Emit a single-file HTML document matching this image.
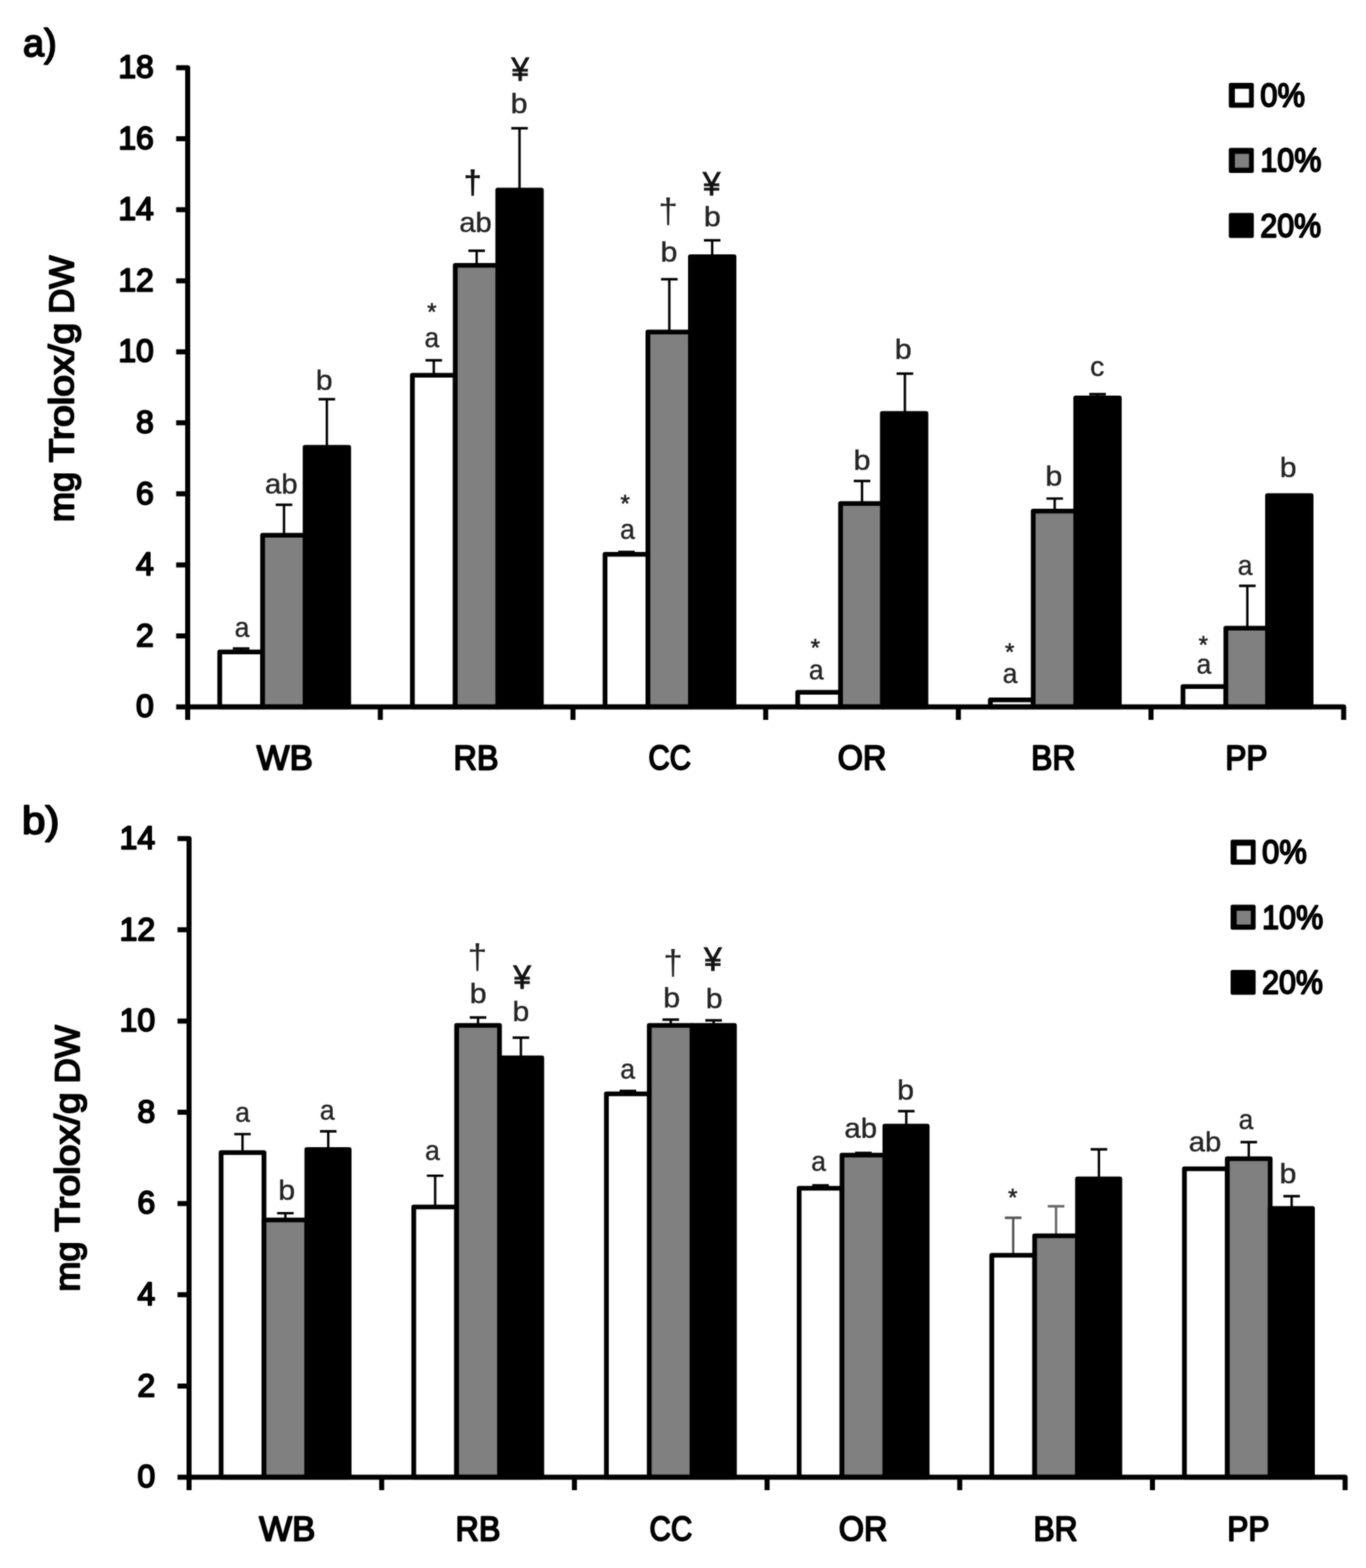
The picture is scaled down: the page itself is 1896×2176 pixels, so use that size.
<!DOCTYPE html>
<html lang="en"><head><meta charset="utf-8"><title>Figure</title>
<style>html,body{margin:0;padding:0;background:#fff}body{width:1896px;height:2176px;overflow:hidden}svg{display:block}text{font-family:"Liberation Sans", sans-serif}</style></head><body>
<svg width="1896" height="2176" viewBox="0 0 1896 2176">
<defs><filter id="soft" x="0" y="0" width="1896" height="2176" filterUnits="userSpaceOnUse" color-interpolation-filters="sRGB"><feGaussianBlur in="SourceGraphic" stdDeviation="0.8" result="b"/><feComposite in="SourceGraphic" in2="b" operator="arithmetic" k1="0" k2="0.45" k3="0.55" k4="0"/></filter></defs>
<rect width="1896" height="2176" fill="#fff"/>
<g filter="url(#soft)">
<rect width="1896" height="2176" fill="#fff"/>
<path d="M334.7 904.8V900.0M323.2 900.0H346.2" stroke="#000" stroke-width="3.3" fill="none"/>
<path d="M394.2 742.8V700.5M382.7 700.5H405.7" stroke="#000" stroke-width="3.3" fill="none"/>
<path d="M453.7 620.8V554.0M442.2 554.0H465.2" stroke="#000" stroke-width="3.3" fill="none"/>
<rect x="305.0" y="904.8" width="59.5" height="76.2" fill="#fff" stroke="#000" stroke-width="6.6" stroke-linejoin="round"/>
<rect x="364.5" y="742.8" width="59.5" height="238.2" fill="#808080" stroke="#000" stroke-width="6.6" stroke-linejoin="round"/>
<rect x="423.5" y="620.8" width="60.5" height="360.2" fill="#000" stroke="#000" stroke-width="6.6" stroke-linejoin="round"/>
<path d="M602.1 520.8V500.0M590.6 500.0H613.6" stroke="#000" stroke-width="3.3" fill="none"/>
<path d="M661.6 368.3V348.0M650.1 348.0H673.1" stroke="#000" stroke-width="3.3" fill="none"/>
<path d="M721.1 263.8V178.0M709.6 178.0H732.6" stroke="#000" stroke-width="3.3" fill="none"/>
<rect x="572.4" y="520.8" width="59.5" height="460.2" fill="#fff" stroke="#000" stroke-width="6.6" stroke-linejoin="round"/>
<rect x="631.9" y="368.3" width="59.5" height="612.7" fill="#808080" stroke="#000" stroke-width="6.6" stroke-linejoin="round"/>
<rect x="690.9" y="263.8" width="60.5" height="717.2" fill="#000" stroke="#000" stroke-width="6.6" stroke-linejoin="round"/>
<path d="M869.5 769.3V766.0M858.0 766.0H881.0" stroke="#000" stroke-width="3.3" fill="none"/>
<path d="M929.0 460.8V387.5M917.5 387.5H940.5" stroke="#000" stroke-width="3.3" fill="none"/>
<path d="M988.5 356.3V333.5M977.0 333.5H1000.0" stroke="#000" stroke-width="3.3" fill="none"/>
<rect x="839.8" y="769.3" width="59.5" height="211.7" fill="#fff" stroke="#000" stroke-width="6.6" stroke-linejoin="round"/>
<rect x="899.3" y="460.8" width="59.5" height="520.2" fill="#808080" stroke="#000" stroke-width="6.6" stroke-linejoin="round"/>
<rect x="958.3" y="356.3" width="60.5" height="624.7" fill="#000" stroke="#000" stroke-width="6.6" stroke-linejoin="round"/>
<path d="M1196.5 698.8V667.5M1185.0 667.5H1208.0" stroke="#000" stroke-width="3.3" fill="none"/>
<path d="M1256.0 573.8V518.5M1244.5 518.5H1267.5" stroke="#000" stroke-width="3.3" fill="none"/>
<rect x="1107.2" y="960.8" width="59.5" height="20.2" fill="#fff" stroke="#000" stroke-width="6.6" stroke-linejoin="round"/>
<rect x="1166.7" y="698.8" width="59.5" height="282.2" fill="#808080" stroke="#000" stroke-width="6.6" stroke-linejoin="round"/>
<rect x="1224.7" y="573.8" width="60.5" height="407.2" fill="#000" stroke="#000" stroke-width="6.6" stroke-linejoin="round"/>
<path d="M1463.9 709.3V691.8M1452.4 691.8H1475.4" stroke="#000" stroke-width="3.3" fill="none"/>
<path d="M1523.4 552.3V547.0M1511.9 547.0H1534.9" stroke="#000" stroke-width="3.3" fill="none"/>
<rect x="1374.6" y="971.3" width="59.5" height="9.7" fill="#fff" stroke="#000" stroke-width="6.6" stroke-linejoin="round"/>
<rect x="1434.1" y="709.3" width="59.5" height="271.7" fill="#808080" stroke="#000" stroke-width="6.6" stroke-linejoin="round"/>
<rect x="1493.1" y="552.3" width="60.5" height="428.7" fill="#000" stroke="#000" stroke-width="6.6" stroke-linejoin="round"/>
<path d="M1731.3 871.8V813.0M1719.8 813.0H1742.8" stroke="#000" stroke-width="3.3" fill="none"/>
<rect x="1642.0" y="952.8" width="59.5" height="28.2" fill="#fff" stroke="#000" stroke-width="6.6" stroke-linejoin="round"/>
<rect x="1701.5" y="871.8" width="59.5" height="109.2" fill="#808080" stroke="#000" stroke-width="6.6" stroke-linejoin="round"/>
<rect x="1759.3" y="687.8" width="60.5" height="293.2" fill="#000" stroke="#000" stroke-width="6.6" stroke-linejoin="round"/>
<path d="M244.5 94H260.5V981" stroke="#000" stroke-width="7" fill="none" stroke-linejoin="round"/>
<path d="M244.5 981H1865V999" stroke="#000" stroke-width="7" fill="none" stroke-linejoin="round"/>
<path d="M244.5 882.4H260.5M244.5 783.9H260.5M244.5 685.3H260.5M244.5 586.8H260.5M244.5 488.2H260.5M244.5 389.7H260.5M244.5 291.1H260.5M244.5 192.6H260.5M260.5 981V999M527.9 981V999M795.3 981V999M1062.8 981V999M1330.2 981V999M1597.6 981V999" stroke="#000" stroke-width="7" fill="none"/>
<text x="213.5" y="995.2" font-size="45" font-weight="normal" text-anchor="end" fill="#000" textLength="24.7" lengthAdjust="spacingAndGlyphs" stroke="#000" stroke-width="2.4" stroke-linejoin="round">0</text>
<text x="213.5" y="896.6" font-size="45" font-weight="normal" text-anchor="end" fill="#000" textLength="24.7" lengthAdjust="spacingAndGlyphs" stroke="#000" stroke-width="2.4" stroke-linejoin="round">2</text>
<text x="213.5" y="798.1" font-size="45" font-weight="normal" text-anchor="end" fill="#000" textLength="24.7" lengthAdjust="spacingAndGlyphs" stroke="#000" stroke-width="2.4" stroke-linejoin="round">4</text>
<text x="213.5" y="699.5" font-size="45" font-weight="normal" text-anchor="end" fill="#000" textLength="24.7" lengthAdjust="spacingAndGlyphs" stroke="#000" stroke-width="2.4" stroke-linejoin="round">6</text>
<text x="213.5" y="601.0" font-size="45" font-weight="normal" text-anchor="end" fill="#000" textLength="24.7" lengthAdjust="spacingAndGlyphs" stroke="#000" stroke-width="2.4" stroke-linejoin="round">8</text>
<text x="213.5" y="502.4" font-size="45" font-weight="normal" text-anchor="end" fill="#000" textLength="49.3" lengthAdjust="spacingAndGlyphs" stroke="#000" stroke-width="2.4" stroke-linejoin="round">10</text>
<text x="213.5" y="403.9" font-size="45" font-weight="normal" text-anchor="end" fill="#000" textLength="49.3" lengthAdjust="spacingAndGlyphs" stroke="#000" stroke-width="2.4" stroke-linejoin="round">12</text>
<text x="213.5" y="305.3" font-size="45" font-weight="normal" text-anchor="end" fill="#000" textLength="49.3" lengthAdjust="spacingAndGlyphs" stroke="#000" stroke-width="2.4" stroke-linejoin="round">14</text>
<text x="213.5" y="206.8" font-size="45" font-weight="normal" text-anchor="end" fill="#000" textLength="49.3" lengthAdjust="spacingAndGlyphs" stroke="#000" stroke-width="2.4" stroke-linejoin="round">16</text>
<text x="213.5" y="108.2" font-size="45" font-weight="normal" text-anchor="end" fill="#000" textLength="49.3" lengthAdjust="spacingAndGlyphs" stroke="#000" stroke-width="2.4" stroke-linejoin="round">18</text>
<text x="395.2" y="1067.6" font-size="49" font-weight="normal" text-anchor="middle" fill="#000" textLength="77.8" lengthAdjust="spacingAndGlyphs" stroke="#000" stroke-width="2.4" stroke-linejoin="round">WB</text>
<text x="660.7" y="1067.6" font-size="49" font-weight="normal" text-anchor="middle" fill="#000" textLength="62.3" lengthAdjust="spacingAndGlyphs" stroke="#000" stroke-width="2.4" stroke-linejoin="round">RB</text>
<text x="929.5" y="1067.6" font-size="49" font-weight="normal" text-anchor="middle" fill="#000" textLength="59.2" lengthAdjust="spacingAndGlyphs" stroke="#000" stroke-width="2.4" stroke-linejoin="round">CC</text>
<text x="1196.5" y="1067.6" font-size="49" font-weight="normal" text-anchor="middle" fill="#000" textLength="67.5" lengthAdjust="spacingAndGlyphs" stroke="#000" stroke-width="2.4" stroke-linejoin="round">OR</text>
<text x="1462.0" y="1067.6" font-size="49" font-weight="normal" text-anchor="middle" fill="#000" textLength="61.3" lengthAdjust="spacingAndGlyphs" stroke="#000" stroke-width="2.4" stroke-linejoin="round">BR</text>
<text x="1730.0" y="1067.6" font-size="49" font-weight="normal" text-anchor="middle" fill="#000" textLength="58.5" lengthAdjust="spacingAndGlyphs" stroke="#000" stroke-width="2.4" stroke-linejoin="round">PP</text>
<text x="-2.0" y="0.0" font-size="49" font-weight="normal" text-anchor="start" fill="#000" textLength="69.7" lengthAdjust="spacingAndGlyphs" stroke="#000" stroke-width="2.4" stroke-linejoin="round" transform="translate(101.8 722.5) rotate(-90)">mg</text>
<text x="80.7" y="0.0" font-size="49" font-weight="normal" text-anchor="start" fill="#000" textLength="194.0" lengthAdjust="spacingAndGlyphs" stroke="#000" stroke-width="2.4" stroke-linejoin="round" transform="translate(101.8 722.5) rotate(-90)">Trolox/g</text>
<text x="287.0" y="0.0" font-size="49" font-weight="normal" text-anchor="start" fill="#000" textLength="80.6" lengthAdjust="spacingAndGlyphs" stroke="#000" stroke-width="2.4" stroke-linejoin="round" transform="translate(101.8 722.5) rotate(-90)">DW</text>
<text x="32.1" y="78.0" font-size="53" font-weight="normal" text-anchor="start" fill="#000" textLength="46.6" lengthAdjust="spacingAndGlyphs" stroke="#000" stroke-width="2.4" stroke-linejoin="round">a)</text>
<rect x="1705.6" y="114.9" width="34.7" height="34.7" rx="2.5" fill="#000"/>
<rect x="1714.0" y="123.2" width="19.6" height="19.2" fill="#fff"/>
<text x="1749.3" y="147.9" font-size="47" font-weight="normal" text-anchor="start" fill="#000" textLength="62.0" lengthAdjust="spacingAndGlyphs" stroke="#000" stroke-width="2.4" stroke-linejoin="round">0%</text>
<rect x="1705.6" y="205.2" width="34.7" height="34.7" rx="2.5" fill="#000"/>
<rect x="1714.0" y="213.5" width="19.6" height="19.2" fill="#808080"/>
<text x="1749.3" y="238.2" font-size="47" font-weight="normal" text-anchor="start" fill="#000" textLength="84.8" lengthAdjust="spacingAndGlyphs" stroke="#000" stroke-width="2.4" stroke-linejoin="round">10%</text>
<rect x="1705.6" y="295.5" width="34.7" height="34.7" rx="2.5" fill="#000"/>
<text x="1749.3" y="328.5" font-size="47" font-weight="normal" text-anchor="start" fill="#000" textLength="84.4" lengthAdjust="spacingAndGlyphs" stroke="#000" stroke-width="2.4" stroke-linejoin="round">20%</text>
<text x="336.0" y="883.6" font-size="39.5" font-weight="normal" text-anchor="middle" fill="#222" textLength="20.4" lengthAdjust="spacingAndGlyphs" stroke="#222" stroke-width="0.5">a</text>
<text x="390.4" y="685.0" font-size="39.5" font-weight="normal" text-anchor="middle" fill="#222" textLength="45.2" lengthAdjust="spacingAndGlyphs" stroke="#222" stroke-width="0.5">ab</text>
<text x="450.0" y="540.6" font-size="39.5" font-weight="normal" text-anchor="middle" fill="#222" textLength="23.5" lengthAdjust="spacingAndGlyphs" stroke="#222" stroke-width="0.5">b</text>
<text x="599.5" y="444.4" font-size="33" font-weight="normal" text-anchor="middle" fill="#222" stroke="#222" stroke-width="0.8">*</text>
<text x="599.4" y="481.5" font-size="39.5" font-weight="normal" text-anchor="middle" fill="#222" textLength="20.4" lengthAdjust="spacingAndGlyphs" stroke="#222" stroke-width="0.5">a</text>
<text x="660.0" y="322.0" font-size="39.5" font-weight="normal" text-anchor="middle" fill="#222" textLength="45.2" lengthAdjust="spacingAndGlyphs" stroke="#222" stroke-width="0.5">ab</text>
<text x="656.0" y="269.0" font-size="47" font-weight="bold" text-anchor="middle" fill="#111">†</text>
<text x="720.5" y="157.0" font-size="39.5" font-weight="normal" text-anchor="middle" fill="#222" textLength="23.5" lengthAdjust="spacingAndGlyphs" stroke="#222" stroke-width="0.5">b</text>
<text x="722.0" y="112.0" font-size="46" font-weight="normal" text-anchor="middle" fill="#111" textLength="24.5" lengthAdjust="spacingAndGlyphs" stroke="#111" stroke-width="1.1">¥</text>
<text x="867.7" y="710.4" font-size="33" font-weight="normal" text-anchor="middle" fill="#222" stroke="#222" stroke-width="0.8">*</text>
<text x="871.0" y="747.6" font-size="39.5" font-weight="normal" text-anchor="middle" fill="#222" textLength="20.4" lengthAdjust="spacingAndGlyphs" stroke="#222" stroke-width="0.5">a</text>
<text x="927.4" y="309.0" font-size="49" font-weight="normal" text-anchor="middle" fill="#222">†</text>
<text x="928.5" y="363.4" font-size="39.5" font-weight="normal" text-anchor="middle" fill="#222" textLength="23.5" lengthAdjust="spacingAndGlyphs" stroke="#222" stroke-width="0.5">b</text>
<text x="987.7" y="271.0" font-size="46" font-weight="normal" text-anchor="middle" fill="#111" textLength="24.5" lengthAdjust="spacingAndGlyphs" stroke="#111" stroke-width="1.1">¥</text>
<text x="988.7" y="314.0" font-size="39.5" font-weight="normal" text-anchor="middle" fill="#222" textLength="23.5" lengthAdjust="spacingAndGlyphs" stroke="#222" stroke-width="0.5">b</text>
<text x="1131.7" y="910.4" font-size="33" font-weight="normal" text-anchor="middle" fill="#222" stroke="#222" stroke-width="0.8">*</text>
<text x="1133.0" y="943.4" font-size="39.5" font-weight="normal" text-anchor="middle" fill="#222" textLength="20.4" lengthAdjust="spacingAndGlyphs" stroke="#222" stroke-width="0.5">a</text>
<text x="1196.6" y="652.4" font-size="39.5" font-weight="normal" text-anchor="middle" fill="#222" textLength="23.5" lengthAdjust="spacingAndGlyphs" stroke="#222" stroke-width="0.5">b</text>
<text x="1253.8" y="498.3" font-size="39.5" font-weight="normal" text-anchor="middle" fill="#222" textLength="23.5" lengthAdjust="spacingAndGlyphs" stroke="#222" stroke-width="0.5">b</text>
<text x="1401.5" y="916.4" font-size="33" font-weight="normal" text-anchor="middle" fill="#222" stroke="#222" stroke-width="0.8">*</text>
<text x="1402.0" y="948.0" font-size="39.5" font-weight="normal" text-anchor="middle" fill="#222" textLength="20.4" lengthAdjust="spacingAndGlyphs" stroke="#222" stroke-width="0.5">a</text>
<text x="1462.8" y="674.0" font-size="39.5" font-weight="normal" text-anchor="middle" fill="#222" textLength="23.5" lengthAdjust="spacingAndGlyphs" stroke="#222" stroke-width="0.5">b</text>
<text x="1523.0" y="522.0" font-size="39.5" font-weight="normal" text-anchor="middle" fill="#222" textLength="19.8" lengthAdjust="spacingAndGlyphs" stroke="#222" stroke-width="0.5">c</text>
<text x="1670.1" y="906.4" font-size="33" font-weight="normal" text-anchor="middle" fill="#222" stroke="#222" stroke-width="0.8">*</text>
<text x="1671.0" y="935.0" font-size="39.5" font-weight="normal" text-anchor="middle" fill="#222" textLength="20.4" lengthAdjust="spacingAndGlyphs" stroke="#222" stroke-width="0.5">a</text>
<text x="1728.3" y="798.0" font-size="39.5" font-weight="normal" text-anchor="middle" fill="#222" textLength="20.4" lengthAdjust="spacingAndGlyphs" stroke="#222" stroke-width="0.5">a</text>
<text x="1788.0" y="662.4" font-size="39.5" font-weight="normal" text-anchor="middle" fill="#222" textLength="23.5" lengthAdjust="spacingAndGlyphs" stroke="#222" stroke-width="0.5">b</text>
<path d="M336.6 1599.5V1573.8M325.1 1573.8H348.1" stroke="#000" stroke-width="3.3" fill="none"/>
<path d="M396.1 1693.0V1683.7M384.6 1683.7H407.6" stroke="#000" stroke-width="3.3" fill="none"/>
<path d="M455.6 1595.3V1570.0M444.1 1570.0H467.1" stroke="#000" stroke-width="3.3" fill="none"/>
<rect x="306.9" y="1599.5" width="59.5" height="450.5" fill="#fff" stroke="#000" stroke-width="6.6" stroke-linejoin="round"/>
<rect x="366.4" y="1693.0" width="59.5" height="357.0" fill="#808080" stroke="#000" stroke-width="6.6" stroke-linejoin="round"/>
<rect x="425.9" y="1595.3" width="58.7" height="454.7" fill="#000" stroke="#000" stroke-width="6.6" stroke-linejoin="round"/>
<path d="M604.0 1675.0V1631.7M592.5 1631.7H615.5" stroke="#000" stroke-width="3.3" fill="none"/>
<path d="M663.5 1423.0V1412.0M652.0 1412.0H675.0" stroke="#000" stroke-width="3.3" fill="none"/>
<path d="M723.0 1468.0V1440.0M711.5 1440.0H734.5" stroke="#000" stroke-width="3.3" fill="none"/>
<rect x="574.3" y="1675.0" width="59.5" height="375.0" fill="#fff" stroke="#000" stroke-width="6.6" stroke-linejoin="round"/>
<rect x="633.8" y="1423.0" width="59.5" height="627.0" fill="#808080" stroke="#000" stroke-width="6.6" stroke-linejoin="round"/>
<rect x="693.3" y="1468.0" width="58.7" height="582.0" fill="#000" stroke="#000" stroke-width="6.6" stroke-linejoin="round"/>
<path d="M871.5 1518.0V1514.0M860.0 1514.0H883.0" stroke="#000" stroke-width="3.3" fill="none"/>
<path d="M931.0 1423.0V1415.0M919.5 1415.0H942.5" stroke="#000" stroke-width="3.3" fill="none"/>
<path d="M990.5 1423.0V1416.0M979.0 1416.0H1002.0" stroke="#000" stroke-width="3.3" fill="none"/>
<rect x="841.7" y="1518.0" width="59.5" height="532.0" fill="#fff" stroke="#000" stroke-width="6.6" stroke-linejoin="round"/>
<rect x="901.2" y="1423.0" width="59.5" height="627.0" fill="#808080" stroke="#000" stroke-width="6.6" stroke-linejoin="round"/>
<rect x="960.7" y="1423.0" width="58.7" height="627.0" fill="#000" stroke="#000" stroke-width="6.6" stroke-linejoin="round"/>
<path d="M1138.9 1649.0V1645.0M1127.4 1645.0H1150.4" stroke="#000" stroke-width="3.3" fill="none"/>
<path d="M1198.4 1603.0V1600.0M1186.9 1600.0H1209.9" stroke="#000" stroke-width="3.3" fill="none"/>
<path d="M1257.9 1562.8V1542.0M1246.4 1542.0H1269.4" stroke="#000" stroke-width="3.3" fill="none"/>
<rect x="1109.2" y="1649.0" width="59.5" height="401.0" fill="#fff" stroke="#000" stroke-width="6.6" stroke-linejoin="round"/>
<rect x="1168.7" y="1603.0" width="59.5" height="447.0" fill="#808080" stroke="#000" stroke-width="6.6" stroke-linejoin="round"/>
<rect x="1228.2" y="1562.8" width="58.7" height="487.2" fill="#000" stroke="#000" stroke-width="6.6" stroke-linejoin="round"/>
<path d="M1406.3 1742.0V1690.0M1394.8 1690.0H1417.8" stroke="#555" stroke-width="3.3" fill="none"/>
<path d="M1465.8 1715.0V1674.0M1454.3 1674.0H1477.3" stroke="#666" stroke-width="3.3" fill="none"/>
<path d="M1525.3 1636.0V1595.0M1513.8 1595.0H1536.8" stroke="#000" stroke-width="3.3" fill="none"/>
<rect x="1376.6" y="1742.0" width="59.5" height="308.0" fill="#fff" stroke="#000" stroke-width="6.6" stroke-linejoin="round"/>
<rect x="1436.1" y="1715.0" width="59.5" height="335.0" fill="#808080" stroke="#000" stroke-width="6.6" stroke-linejoin="round"/>
<rect x="1495.6" y="1636.0" width="58.7" height="414.0" fill="#000" stroke="#000" stroke-width="6.6" stroke-linejoin="round"/>
<path d="M1733.3 1608.0V1585.0M1721.8 1585.0H1744.8" stroke="#000" stroke-width="3.3" fill="none"/>
<path d="M1792.8 1677.0V1660.0M1781.3 1660.0H1804.3" stroke="#000" stroke-width="3.3" fill="none"/>
<rect x="1644.0" y="1622.0" width="59.5" height="428.0" fill="#fff" stroke="#000" stroke-width="6.6" stroke-linejoin="round"/>
<rect x="1703.5" y="1608.0" width="59.5" height="442.0" fill="#808080" stroke="#000" stroke-width="6.6" stroke-linejoin="round"/>
<rect x="1763.0" y="1677.0" width="58.7" height="373.0" fill="#000" stroke="#000" stroke-width="6.6" stroke-linejoin="round"/>
<path d="M246.39999999999998 1163.7H262.4V2050" stroke="#000" stroke-width="7" fill="none" stroke-linejoin="round"/>
<path d="M246.39999999999998 2050H1867V2068" stroke="#000" stroke-width="7" fill="none" stroke-linejoin="round"/>
<path d="M246.39999999999998 1923.4H262.4M246.39999999999998 1796.8H262.4M246.39999999999998 1670.2H262.4M246.39999999999998 1543.5H262.4M246.39999999999998 1416.9H262.4M246.39999999999998 1290.3H262.4M262.4 2050V2068M529.8 2050V2068M797.3 2050V2068M1064.7 2050V2068M1332.1 2050V2068M1599.6 2050V2068" stroke="#000" stroke-width="7" fill="none"/>
<text x="215.4" y="2064.2" font-size="45" font-weight="normal" text-anchor="end" fill="#000" textLength="24.7" lengthAdjust="spacingAndGlyphs" stroke="#000" stroke-width="2.4" stroke-linejoin="round">0</text>
<text x="215.4" y="1937.6" font-size="45" font-weight="normal" text-anchor="end" fill="#000" textLength="24.7" lengthAdjust="spacingAndGlyphs" stroke="#000" stroke-width="2.4" stroke-linejoin="round">2</text>
<text x="215.4" y="1811.0" font-size="45" font-weight="normal" text-anchor="end" fill="#000" textLength="24.7" lengthAdjust="spacingAndGlyphs" stroke="#000" stroke-width="2.4" stroke-linejoin="round">4</text>
<text x="215.4" y="1684.4" font-size="45" font-weight="normal" text-anchor="end" fill="#000" textLength="24.7" lengthAdjust="spacingAndGlyphs" stroke="#000" stroke-width="2.4" stroke-linejoin="round">6</text>
<text x="215.4" y="1557.7" font-size="45" font-weight="normal" text-anchor="end" fill="#000" textLength="24.7" lengthAdjust="spacingAndGlyphs" stroke="#000" stroke-width="2.4" stroke-linejoin="round">8</text>
<text x="215.4" y="1431.1" font-size="45" font-weight="normal" text-anchor="end" fill="#000" textLength="49.3" lengthAdjust="spacingAndGlyphs" stroke="#000" stroke-width="2.4" stroke-linejoin="round">10</text>
<text x="215.4" y="1304.5" font-size="45" font-weight="normal" text-anchor="end" fill="#000" textLength="49.3" lengthAdjust="spacingAndGlyphs" stroke="#000" stroke-width="2.4" stroke-linejoin="round">12</text>
<text x="215.4" y="1177.9" font-size="45" font-weight="normal" text-anchor="end" fill="#000" textLength="49.3" lengthAdjust="spacingAndGlyphs" stroke="#000" stroke-width="2.4" stroke-linejoin="round">14</text>
<text x="398.7" y="2137.6" font-size="49" font-weight="normal" text-anchor="middle" fill="#000" textLength="77.8" lengthAdjust="spacingAndGlyphs" stroke="#000" stroke-width="2.4" stroke-linejoin="round">WB</text>
<text x="663.5" y="2137.6" font-size="49" font-weight="normal" text-anchor="middle" fill="#000" textLength="62.3" lengthAdjust="spacingAndGlyphs" stroke="#000" stroke-width="2.4" stroke-linejoin="round">RB</text>
<text x="931.2" y="2137.6" font-size="49" font-weight="normal" text-anchor="middle" fill="#000" textLength="59.2" lengthAdjust="spacingAndGlyphs" stroke="#000" stroke-width="2.4" stroke-linejoin="round">CC</text>
<text x="1197.9" y="2137.6" font-size="49" font-weight="normal" text-anchor="middle" fill="#000" textLength="67.5" lengthAdjust="spacingAndGlyphs" stroke="#000" stroke-width="2.4" stroke-linejoin="round">OR</text>
<text x="1465.1" y="2137.6" font-size="49" font-weight="normal" text-anchor="middle" fill="#000" textLength="61.3" lengthAdjust="spacingAndGlyphs" stroke="#000" stroke-width="2.4" stroke-linejoin="round">BR</text>
<text x="1732.7" y="2137.6" font-size="49" font-weight="normal" text-anchor="middle" fill="#000" textLength="58.5" lengthAdjust="spacingAndGlyphs" stroke="#000" stroke-width="2.4" stroke-linejoin="round">PP</text>
<text x="-2.0" y="0.0" font-size="49" font-weight="normal" text-anchor="start" fill="#000" textLength="69.7" lengthAdjust="spacingAndGlyphs" stroke="#000" stroke-width="2.4" stroke-linejoin="round" transform="translate(109.5 1790.5) rotate(-90)">mg</text>
<text x="80.7" y="0.0" font-size="49" font-weight="normal" text-anchor="start" fill="#000" textLength="194.0" lengthAdjust="spacingAndGlyphs" stroke="#000" stroke-width="2.4" stroke-linejoin="round" transform="translate(109.5 1790.5) rotate(-90)">Trolox/g</text>
<text x="287.0" y="0.0" font-size="49" font-weight="normal" text-anchor="start" fill="#000" textLength="80.6" lengthAdjust="spacingAndGlyphs" stroke="#000" stroke-width="2.4" stroke-linejoin="round" transform="translate(109.5 1790.5) rotate(-90)">DW</text>
<text x="30.4" y="1157.4" font-size="53" font-weight="normal" text-anchor="start" fill="#000" textLength="52.0" lengthAdjust="spacingAndGlyphs" stroke="#000" stroke-width="2.4" stroke-linejoin="round">b)</text>
<rect x="1708.1" y="1165.3" width="34.7" height="34.7" rx="2.5" fill="#000"/>
<rect x="1716.5" y="1173.6" width="19.6" height="19.2" fill="#fff"/>
<text x="1751.8" y="1198.3" font-size="47" font-weight="normal" text-anchor="start" fill="#000" textLength="62.0" lengthAdjust="spacingAndGlyphs" stroke="#000" stroke-width="2.4" stroke-linejoin="round">0%</text>
<rect x="1708.1" y="1255.6" width="34.7" height="34.7" rx="2.5" fill="#000"/>
<rect x="1716.5" y="1263.9" width="19.6" height="19.2" fill="#808080"/>
<text x="1751.8" y="1288.6" font-size="47" font-weight="normal" text-anchor="start" fill="#000" textLength="84.8" lengthAdjust="spacingAndGlyphs" stroke="#000" stroke-width="2.4" stroke-linejoin="round">10%</text>
<rect x="1708.1" y="1345.9" width="34.7" height="34.7" rx="2.5" fill="#000"/>
<text x="1751.8" y="1378.9" font-size="47" font-weight="normal" text-anchor="start" fill="#000" textLength="84.4" lengthAdjust="spacingAndGlyphs" stroke="#000" stroke-width="2.4" stroke-linejoin="round">20%</text>
<text x="336.8" y="1557.3" font-size="39.5" font-weight="normal" text-anchor="middle" fill="#222" textLength="20.4" lengthAdjust="spacingAndGlyphs" stroke="#222" stroke-width="0.5">a</text>
<text x="397.9" y="1665.0" font-size="39.5" font-weight="normal" text-anchor="middle" fill="#222" textLength="23.5" lengthAdjust="spacingAndGlyphs" stroke="#222" stroke-width="0.5">b</text>
<text x="454.1" y="1554.0" font-size="39.5" font-weight="normal" text-anchor="middle" fill="#222" textLength="20.4" lengthAdjust="spacingAndGlyphs" stroke="#222" stroke-width="0.5">a</text>
<text x="600.1" y="1609.5" font-size="39.5" font-weight="normal" text-anchor="middle" fill="#222" textLength="20.4" lengthAdjust="spacingAndGlyphs" stroke="#222" stroke-width="0.5">a</text>
<text x="662.6" y="1343.5" font-size="49" font-weight="normal" text-anchor="middle" fill="#222">†</text>
<text x="663.7" y="1391.5" font-size="39.5" font-weight="normal" text-anchor="middle" fill="#222" textLength="23.5" lengthAdjust="spacingAndGlyphs" stroke="#222" stroke-width="0.5">b</text>
<text x="724.7" y="1371.5" font-size="46" font-weight="normal" text-anchor="middle" fill="#111" textLength="24.5" lengthAdjust="spacingAndGlyphs" stroke="#111" stroke-width="1.1">¥</text>
<text x="722.9" y="1416.9" font-size="39.5" font-weight="normal" text-anchor="middle" fill="#222" textLength="23.5" lengthAdjust="spacingAndGlyphs" stroke="#222" stroke-width="0.5">b</text>
<text x="871.3" y="1496.7" font-size="39.5" font-weight="normal" text-anchor="middle" fill="#222" textLength="20.4" lengthAdjust="spacingAndGlyphs" stroke="#222" stroke-width="0.5">a</text>
<text x="934.2" y="1351.5" font-size="49" font-weight="normal" text-anchor="middle" fill="#222">†</text>
<text x="932.3" y="1397.6" font-size="39.5" font-weight="normal" text-anchor="middle" fill="#222" textLength="23.5" lengthAdjust="spacingAndGlyphs" stroke="#222" stroke-width="0.5">b</text>
<text x="989.4" y="1346.5" font-size="46" font-weight="normal" text-anchor="middle" fill="#111" textLength="24.5" lengthAdjust="spacingAndGlyphs" stroke="#111" stroke-width="1.1">¥</text>
<text x="991.3" y="1398.7" font-size="39.5" font-weight="normal" text-anchor="middle" fill="#222" textLength="23.5" lengthAdjust="spacingAndGlyphs" stroke="#222" stroke-width="0.5">b</text>
<text x="1136.3" y="1625.3" font-size="39.5" font-weight="normal" text-anchor="middle" fill="#222" textLength="20.4" lengthAdjust="spacingAndGlyphs" stroke="#222" stroke-width="0.5">a</text>
<text x="1194.7" y="1579.0" font-size="39.5" font-weight="normal" text-anchor="middle" fill="#222" textLength="45.2" lengthAdjust="spacingAndGlyphs" stroke="#222" stroke-width="0.5">ab</text>
<text x="1256.9" y="1526.2" font-size="39.5" font-weight="normal" text-anchor="middle" fill="#222" textLength="23.5" lengthAdjust="spacingAndGlyphs" stroke="#222" stroke-width="0.5">b</text>
<text x="1405.7" y="1673.3" font-size="33" font-weight="normal" text-anchor="middle" fill="#222" stroke="#222" stroke-width="0.8">*</text>
<text x="1672.6" y="1597.5" font-size="39.5" font-weight="normal" text-anchor="middle" fill="#222" textLength="45.2" lengthAdjust="spacingAndGlyphs" stroke="#222" stroke-width="0.5">ab</text>
<text x="1729.4" y="1567.3" font-size="39.5" font-weight="normal" text-anchor="middle" fill="#222" textLength="20.4" lengthAdjust="spacingAndGlyphs" stroke="#222" stroke-width="0.5">a</text>
<text x="1787.8" y="1641.7" font-size="39.5" font-weight="normal" text-anchor="middle" fill="#222" textLength="23.5" lengthAdjust="spacingAndGlyphs" stroke="#222" stroke-width="0.5">b</text>
</g>
</svg></body></html>
